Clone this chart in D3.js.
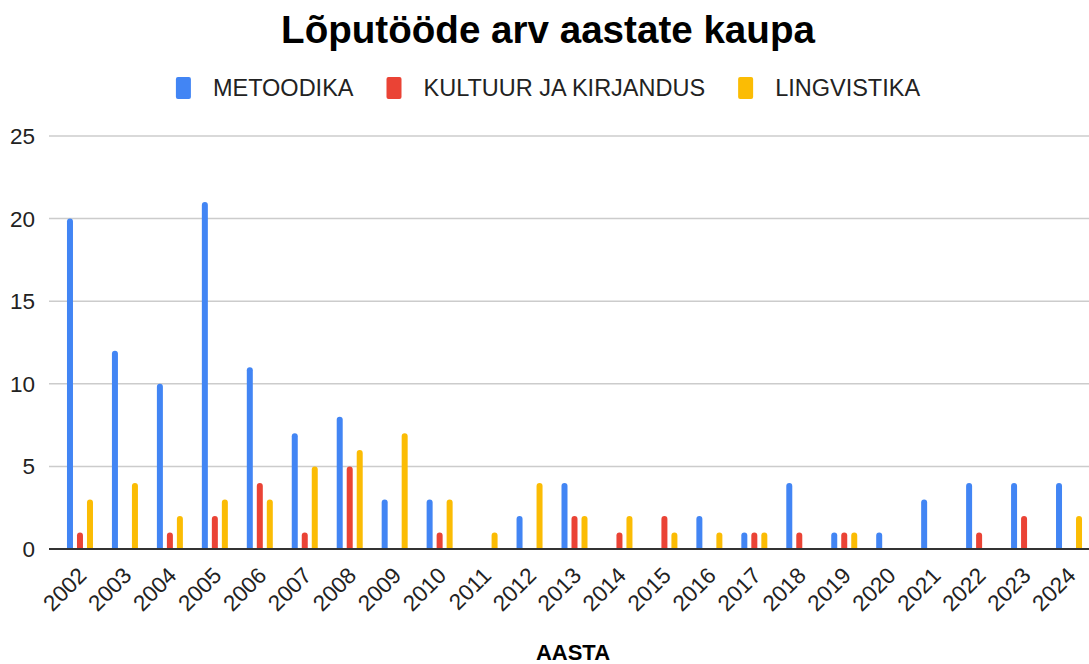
<!DOCTYPE html>
<html>
<head>
<meta charset="utf-8">
<script src="https://cdn.jsdelivr.net/npm/d3@7"></script>
<style>
  body { margin: 0; background: #fff; }
  svg { display: block; font-family: "Liberation Sans", Arial, sans-serif; }
</style>
</head>
<body>
<svg id="chart" width="1089" height="664"></svg>
<script>
// data
var years = ["2002","2003","2004","2005","2006","2007","2008","2009","2010","2011","2012",
             "2013","2014","2015","2016","2017","2018","2019","2020","2021","2022","2023","2024"];
var metoodika = [20,12,10,21,11,7,8,3,3,0,2,4,0,0,2,1,4,1,1,3,4,4,4];
var kultuur   = [1,0,1,2,4,1,5,0,1,0,0,2,1,2,0,1,1,1,0,0,1,2,0];
var lingv     = [3,4,2,3,3,5,6,7,3,1,4,2,2,1,1,1,0,1,0,0,0,0,2];
var seriesNames = ["METOODIKA", "KULTUUR JA KIRJANDUS", "LINGVISTIKA"];
var colors = ["#4285F4", "#EA4335", "#FBBC04"];
var yTicks = [0, 5, 10, 15, 20, 25];

var svg = d3.select("#chart");
var gridLeft = 49, gridRight = 1089, baseY = 549, topY = 136;

var x = d3.scaleBand().domain(years).range([57.5, 1091.5]);
var sub = d3.scaleBand().domain(d3.range(3)).range([-15, 15]);
var y = d3.scaleLinear().domain([0, 25]).range([baseY, topY]);

// title
svg.append("text")
  .attr("x", 548).attr("y", 43)
  .attr("text-anchor", "middle")
  .style("font-size", "38.6px").style("font-weight", "bold")
  .text("Lõputööde arv aastate kaupa");

// legend
var leg = svg.append("g");
var lx = 0;
seriesNames.forEach(function(n, i) {
  var g = leg.append("g").attr("transform", "translate(" + lx + ",0)");
  g.append("rect").attr("x", 0).attr("y", 77).attr("width", 15).attr("height", 22)
    .attr("rx", 2).attr("fill", colors[i]);
  var t = g.append("text").attr("x", 37).attr("y", 96)
    .style("font-size", "23.5px").attr("fill", "#222").text(n);
  lx += 37 + t.node().getComputedTextLength() + 33;
});
var legW = lx - 33;
leg.attr("transform", "translate(" + (548 - legW / 2) + ",0)");

// grid
svg.append("g").selectAll("line").data(yTicks.slice(1)).enter().append("line")
  .attr("x1", gridLeft).attr("x2", gridRight)
  .attr("y1", function(d) { return y(d); }).attr("y2", function(d) { return y(d); })
  .attr("stroke", "#cccccc").attr("stroke-width", 1.5);

svg.append("g").selectAll("text").data(yTicks).enter().append("text")
  .attr("x", 35).attr("y", function(d) { return y(d) + 8; })
  .attr("text-anchor", "end")
  .style("font-size", "22.5px").attr("fill", "#222")
  .text(function(d) { return d; });

// bars
var rows = [];
years.forEach(function(yr, i) {
  [metoodika, kultuur, lingv].forEach(function(s, k) {
    if (s[i] > 0) rows.push({ year: yr, k: k, v: s[i] });
  });
});

function barPath(d) {
  var w = 6, r = 3;
  var cx = x(d.year) + x.bandwidth() / 2 + sub(d.k) + sub.bandwidth() / 2;
  var x0 = cx - w / 2, y0 = y(d.v), y1 = baseY;
  return "M" + x0 + "," + y1 + "V" + (y0 + r) +
    "A" + r + "," + r + " 0 0 1 " + (x0 + w) + "," + (y0 + r) +
    "V" + y1 + "Z";
}

svg.append("g").selectAll("path").data(rows).enter().append("path")
  .attr("d", barPath)
  .attr("fill", function(d) { return colors[d.k]; });

// baseline
svg.append("line")
  .attr("x1", gridLeft).attr("x2", gridRight).attr("y1", baseY).attr("y2", baseY)
  .attr("stroke", "#333").attr("stroke-width", 2);

// x labels
svg.append("g").selectAll("text").data(years).enter().append("text")
  .attr("transform", function(d) {
    return "translate(" + (x(d) + x.bandwidth() / 2 + 8) + ",577) rotate(-45)";
  })
  .attr("text-anchor", "end")
  .style("font-size", "22.5px").attr("fill", "#222")
  .text(function(d) { return d; });

svg.append("text")
  .attr("x", 573).attr("y", 660)
  .attr("text-anchor", "middle")
  .style("font-size", "22px").style("font-weight", "bold")
  .text("AASTA");
</script>
</body>
</html>
